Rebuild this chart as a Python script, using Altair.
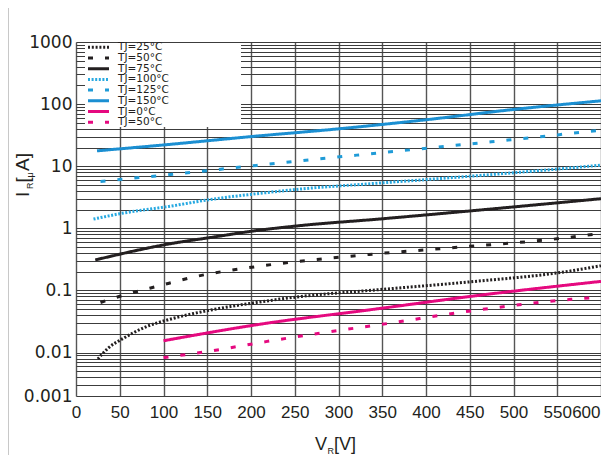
import json
import altair as alt
import pandas as pd

# ---------------- data ----------------
keys = ["s25", "s50", "s75", "s100", "s125", "s150", "s0", "s50b"]
labels = ["TJ=25°C", "TJ=50°C", "TJ=75°C", "TJ=100°C", "TJ=125°C", "TJ=150°C", "TJ=0°C", "TJ=50°C"]

vr_25 = [25, 37, 53, 80, 106, 156, 206, 257, 346, 456, 554, 600]
ir_25 = [0.0079, 0.0119, 0.0166, 0.026, 0.034, 0.049, 0.064, 0.080, 0.103, 0.140, 0.195, 0.25]

vr_50 = [28, 53, 96, 139, 204, 289, 335, 423, 554, 600]
ir_50 = [0.064, 0.083, 0.12, 0.17, 0.24, 0.33, 0.38, 0.48, 0.69, 0.83]

vr_75 = [22, 106, 156, 206, 257, 346, 456, 600]
ir_75 = [0.31, 0.56, 0.72, 0.92, 1.11, 1.41, 1.94, 3.0]

vr_100 = [20, 54, 106, 156, 206, 257, 346, 456, 554, 600]
ir_100 = [1.41, 1.76, 2.25, 2.95, 3.6, 4.3, 5.35, 7.0, 9.1, 10.4]

vr_125 = [28, 74, 150, 206, 335, 424, 511, 600]
ir_125 = [5.7, 6.6, 8.5, 10.3, 15.8, 21, 28, 38]

vr_150 = [24, 100, 200, 300, 400, 500, 600]
ir_150 = [17.7, 22, 30, 40, 56, 82, 113]

vr_0 = [100, 206, 346, 456, 600]
ir_0 = [0.0155, 0.028, 0.051, 0.082, 0.14]

vr_50b = [100, 152, 217, 283, 346, 457, 566, 595]
ir_50b = [0.0083, 0.0105, 0.015, 0.021, 0.028, 0.048, 0.072, 0.077]

x_ticks = list(range(0, 601, 50))
decades = [0.01, 0.1, 1, 10, 100, 1000]
y_grid = [float(f"{m}e-3") for m in range(2, 10)] + \
         [float(f"{m}e{e}") for e in range(-2, 3) for m in range(1, 10)] + [1000]

# ---------------- styles ----------------
colors = ["#231F20", "#231F20", "#231F20", "#27A9E1", "#1F9BD7", "#1B8FD2", "#E5097F", "#E5097F"]
dashes = [[2, 1.8], [5, 12], [1, 0], [2, 1.6], [5, 12], [1, 0], [1, 0], [5, 12]]

series_x = [vr_25, vr_50, vr_75, vr_100, vr_125, vr_150, vr_0, vr_50b]
series_y = [ir_25, ir_50, ir_75, ir_100, ir_125, ir_150, ir_0, ir_50b]
rows = []
for k, xs, ys in zip(keys, series_x, series_y):
    for i, (a, b) in enumerate(zip(xs, ys)):
        rows.append({"series": k, "vr": a, "ir": b, "order": i})
df = pd.DataFrame(rows)
legend_df = pd.DataFrame({"series": keys, "label": labels, "row": list(range(len(keys)))})

FONT = "Liberation Sans, Arial, sans-serif"
WIDE = "DejaVu Sans, Verdana, sans-serif"
TXT = "#231F20"

color_scale = alt.Scale(domain=keys, range=colors)
dash_scale = alt.Scale(domain=keys, range=dashes)

y_label_expr = (f"indexof({json.dumps(decades)}, datum.value) >= 0 ? '' + datum.value : "
                "(datum.value == 0.002 ? '0.001' : '')")

base = alt.Chart(df).encode(
    x=alt.X("vr:Q", scale=alt.Scale(domain=[0, 600], nice=False, zero=False),
            axis=alt.Axis(values=x_ticks, title=None, grid=True, gridColor="#555555",
                          gridWidth=1.4, ticks=False, domain=False, labelFont=FONT,
                          labelFontSize=17, labelPadding=8, labelColor=TXT,
                          labelOverlap=False, labelFlush=False,
                          labelAlign={"condition": {"test": "datum.value == 600", "value": "right"},
                                      "value": "center"},
                          labelOffset={"condition": {"test": "datum.value == 600", "value": -1},
                                       "value": 0})),
    y=alt.Y("ir:Q", scale=alt.Scale(type="log", domain=[0.002, 1000], nice=False),
            axis=alt.Axis(values=y_grid, labelExpr=y_label_expr, title=None, grid=True,
                          gridColor="#3c3c3c", gridWidth=1, ticks=False, domain=False,
                          labelFont=WIDE, labelFontSize=17, labelPadding=4,
                          labelColor=TXT, labelOverlap=False, labelFlush=False)),
    color=alt.Color("series:N", scale=color_scale, legend=None),
    strokeDash=alt.StrokeDash("series:N", scale=dash_scale, legend=None),
    order="order:Q",
)
lines = base.mark_line(strokeWidth=3, interpolate="monotone")

one = pd.DataFrame({"a": [0]})
legend_bg = alt.Chart(one).mark_rect(color="white").encode(
    x=alt.value(9), x2=alt.value(165), y=alt.value(1), y2=alt.value(85))

leg_base = alt.Chart(legend_df).transform_calculate(py="5.3 + datum.row * 10.7")
leg_sym = leg_base.mark_rule(strokeWidth=3).encode(
    x=alt.value(12), x2=alt.value(33),
    y=alt.Y("py:Q", scale=None, axis=None),
    color=alt.Color("series:N", scale=color_scale, legend=None),
    strokeDash=alt.StrokeDash("series:N", scale=dash_scale, legend=None),
)
leg_txt = leg_base.mark_text(align="left", baseline="middle", font=WIDE, fontSize=10.5,
                             color=TXT).encode(
    x=alt.value(42), y=alt.Y("py:Q", scale=None, axis=None), text="label:N")

frame = alt.Chart(one).mark_rule(color="#c8c8c8", strokeWidth=1).encode(
    x=alt.value(-67.5), y=alt.value(-34), y2=alt.value(413))


def txt(s, x, y, size, angle=0, font=FONT):
    return alt.Chart(one).mark_text(text=s, font=font, fontSize=size, color=TXT,
                                    align="left", baseline="alphabetic", angle=angle).encode(
        x=alt.value(x), y=alt.value(y))


# x title  V_R[V]
xt = [txt("V", 239, 408, 18), txt("R", 251.5, 412, 9), txt("[V]", 258, 408, 18)]
# y title  I_R[μA] (rotated)
yt = [txt("I", -47, 155, 19, 270), txt("R", -43, 147, 9, 270),
      txt("[", -47, 140.5, 19, 270), txt("μ", -43, 135.5, 9, 270),
      txt("A]", -47, 129, 19, 270)]

chart = alt.layer(frame, legend_bg, lines, leg_sym, leg_txt, *xt, *yt).properties(
    width=525, height=354,
    autosize=alt.AutoSizeParams(type="none"),
    padding={"left": 68, "top": 34, "right": 0, "bottom": 59},
).configure_view(stroke="#555", strokeWidth=1.5).configure(background="white")

chart.save("out.html", embed_options={"renderer": "svg", "actions": False})
